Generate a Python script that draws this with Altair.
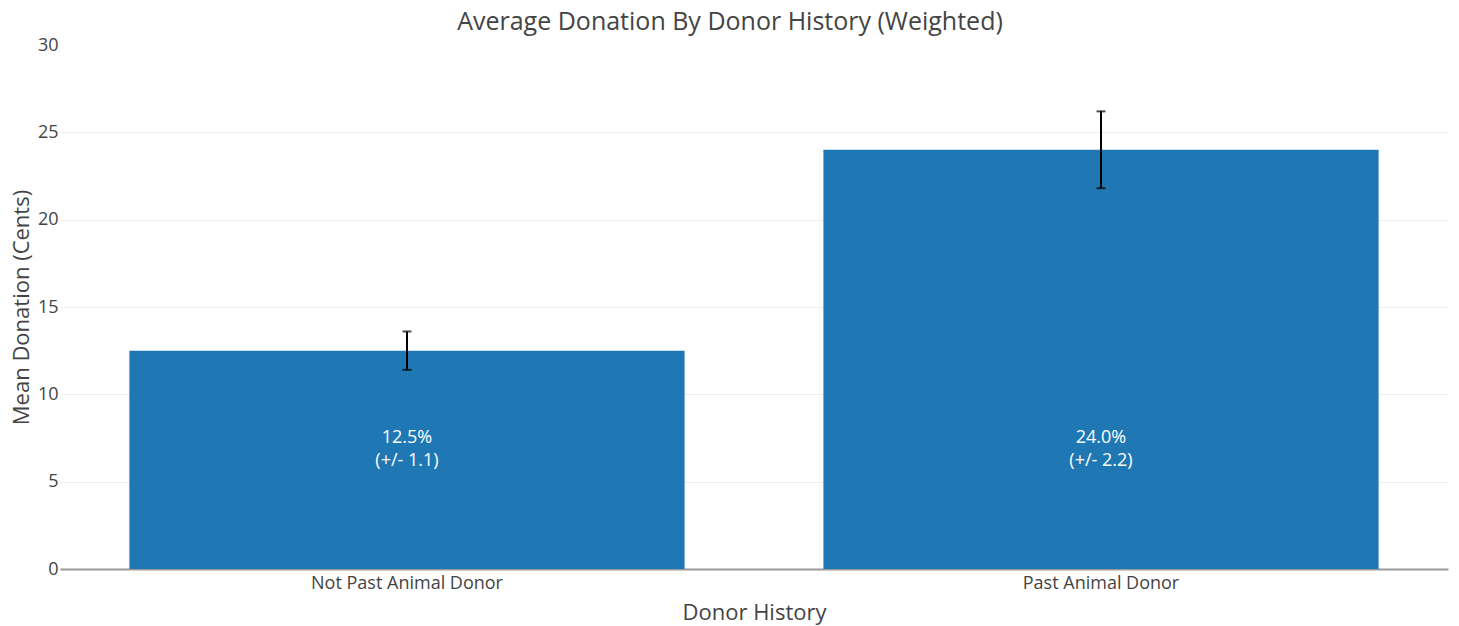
import altair as alt
import pandas as pd

categories = ["Not Past Animal Donor", "Past Animal Donor"]
means = [12.5, 24.0]
errors = [1.1, 2.2]

df = pd.DataFrame({
    "cat": categories,
    "mean": means,
    "err": errors,
})
df["lo"] = df["mean"] - df["err"]
df["hi"] = df["mean"] + df["err"]
df["label"] = [f"{m:.1f}%\n(+/- {e:.1f})" for m, e in zip(means, errors)]

FONT = "Open Sans"
TXT = "#444444"

x_enc = alt.X(
    "cat:N",
    sort=categories,
    scale=alt.Scale(paddingInner=0.2, paddingOuter=0.1),
    axis=alt.Axis(
        title="Donor History",
        labelAngle=0,
        labelFontSize=18,
        labelFont=FONT,
        labelColor=TXT,
        labelPadding=5,
        labelLimit=0,
        ticks=False,
        domainColor="#9a9a9a",
        domainWidth=2,
        titleFontSize=22,
        titleFont=FONT,
        titleColor=TXT,
        titleFontWeight="normal",
        titlePadding=10,
    ),
)

y_scale = alt.Scale(domain=[0, 30], nice=False)
y_axis = alt.Axis(
    title="Mean Donation (Cents)",
    values=[0, 5, 10, 15, 20, 25, 30],
    labelFontSize=18,
    labelFont=FONT,
    labelColor=TXT,
    labelPadding=2,
    ticks=False,
    domain=False,
    gridColor={"condition": {"test": "datum.value >= 30", "value": "#ffffff"}, "value": "#eeeeee"},
    gridWidth=1,
    titleFontSize=22,
    titleFont=FONT,
    titleColor=TXT,
    titleFontWeight="normal",
    titlePadding=4,
)

base = alt.Chart(df)

bars = base.mark_bar(color="#1f77b4").encode(
    x=x_enc,
    y=alt.Y("mean:Q", scale=y_scale, axis=y_axis),
)

err_rule = base.mark_rule(color="black", strokeWidth=2).encode(
    x=alt.X("cat:N", sort=categories),
    y="lo:Q",
    y2="hi:Q",
)

cap_lo = base.mark_tick(color="black", thickness=2, size=9, orient="horizontal").encode(
    x=alt.X("cat:N", sort=categories),
    y="lo:Q",
)
cap_hi = base.mark_tick(color="black", thickness=2, size=9, orient="horizontal").encode(
    x=alt.X("cat:N", sort=categories),
    y="hi:Q",
)

labels = base.mark_text(
    color="white", fontSize=18, font=FONT, lineBreak="\n", lineHeight=23, baseline="middle"
).encode(
    x=alt.X("cat:N", sort=categories),
    y=alt.datum(7.5),
    text="label:N",
)

chart = alt.layer(bars, err_rule, cap_lo, cap_hi, labels).properties(
    width=1388,
    height=524,
    title=alt.TitleParams(
        "Average Donation By Donor History (Weighted)",
        font=FONT,
        fontSize=25,
        fontWeight="normal",
        color=TXT,
        anchor="middle",
        offset=1,
        dx=-24,
    ),
    autosize=alt.AutoSizeParams(type="none"),
    padding={"left": 52, "top": 37, "right": 3, "bottom": 57},
).configure_view(stroke=None)

chart.save("out.html", embed_options={"renderer": "svg", "actions": False})
